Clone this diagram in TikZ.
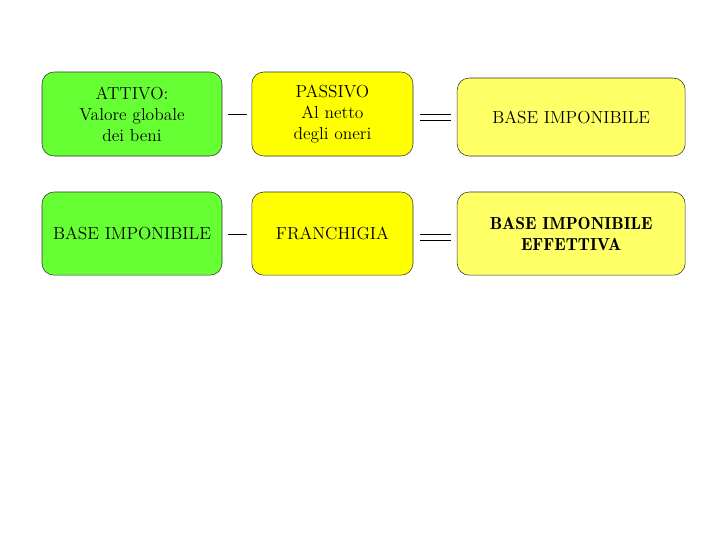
\documentclass[tikz,border=0pt]{standalone}
\usepackage{tikz}
\usepackage{amsmath,amssymb}
\definecolor{verde}{HTML}{66FF33}
\definecolor{giallo}{HTML}{FFFF00}
\definecolor{giallino}{HTML}{FFFF66}

\begin{document}
\begin{tikzpicture}[box/.style={draw=black!80,rounded corners=0.3cm,align=center,
      font=\fontsize{12.4}{14.9}\selectfont,inner sep=2pt},
    meno/.style={inner sep=0pt,minimum width=0.49cm,minimum height=0.2cm,
      path picture={\draw[line width=0.6pt] (path picture bounding box.west) -- (path picture bounding box.east);}},
    uguale/.style={inner sep=0pt,minimum width=0.78cm,minimum height=0.3cm,
      path picture={\draw[line width=0.6pt] ([yshift=0.066cm]path picture bounding box.west) -- ([yshift=0.066cm]path picture bounding box.east)
        ([yshift=-0.066cm]path picture bounding box.west) -- ([yshift=-0.066cm]path picture bounding box.east);}}]
            \useasboundingbox (0,0) rectangle (18,-13.5);
            \node[box,fill=verde,minimum width=4.5cm,minimum height=2.1cm] (att) at (3.3,-2.85) {ATTIVO:\\Valore globale\\dei beni};
            \node[box,fill=giallo,minimum width=4.03cm,minimum height=2.1cm] (pas) at (8.31,-2.85) {PASSIVO\\Al netto\\degli oneri};
            \node[box,fill=giallino,minimum width=5.7cm,minimum height=1.95cm] (base) at (14.28,-2.925) {BASE IMPONIBILE};
            \node[box,fill=verde,minimum width=4.5cm,minimum height=2.08cm] (base2) at (3.3,-5.84) {BASE IMPONIBILE};
            \node[box,fill=giallo,minimum width=4.03cm,minimum height=2.08cm] (fra) at (8.31,-5.84) {FRANCHIGIA};
            \node[box,fill=giallino,minimum width=5.7cm,minimum height=2.08cm,font=\fontsize{12.4}{14.9}\fontseries{b}\selectfont] (eff) at (14.28,-5.84) {BASE IMPONIBILE\\EFFETTIVA};
            \node[meno] (m1) at (5.94,-2.86) {};
            \node[meno] (m2) at (5.94,-5.86) {};
            \node[uguale] (u1) at (10.89,-2.935) {};
            \node[uguale] (u2) at (10.89,-5.935) {};
          \end{tikzpicture}
\end{document}
